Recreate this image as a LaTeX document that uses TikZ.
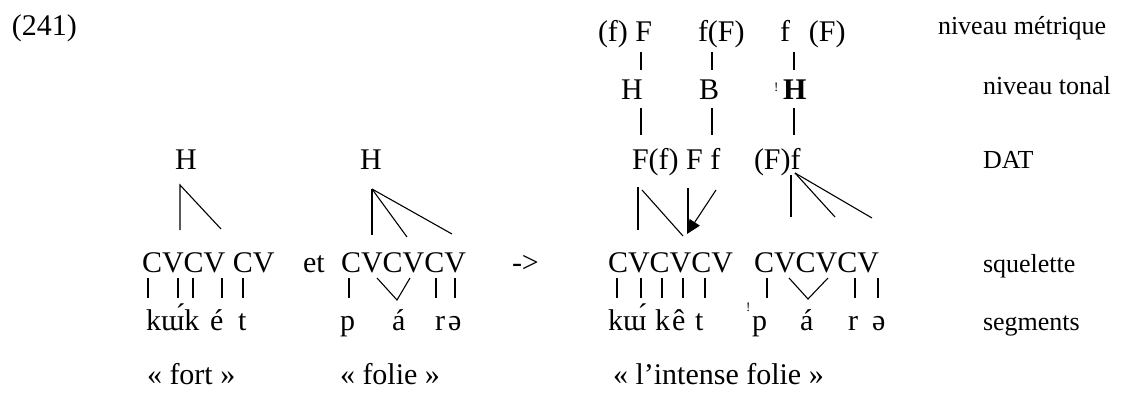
\documentclass[tikz,border=0pt]{standalone}
\usepackage{fontspec}
\setmainfont{Liberation Serif}
\usetikzlibrary{arrows.meta}
\begin{document}
\begin{tikzpicture}[x=1pt,y=-1pt,
 txt/.style={inner sep=0pt,outer sep=0pt,anchor=base west,font=\fontsize{30}{36}\selectfont},
 lab/.style={inner sep=0pt,outer sep=0pt,anchor=base west,font=\fontsize{26}{30}\selectfont},
 tinymark/.style={inner sep=0pt,outer sep=0pt,anchor=north west,font=\fontsize{13}{14}\selectfont},
 assoc/.style={line width=1.1pt,line cap=butt},
 ]
\useasboundingbox (0,0) rectangle (1127,393);
% number
\node[txt] (num) at (12,36) {(241)};
% metric level
\node[txt] (m1) at (598,42) {(f) F};
\node[txt] (m2) at (698,42) {f(F)};
\node[txt] (m3) at (780,42) {f\hspace{19pt}(F)};
% tonal level
\node[txt] (t1) at (621,100) {H};
\node[txt] (t2) at (699,100) {B};
\node[tinymark] (t3x) at (774,83) {!};
\node[txt] (t3) at (783,100) {\bfseries H};
% DAT
\node[txt] (d1) at (175,169) {H};
\node[txt] (d2) at (360,169) {H};
\node[txt] (d3) at (632,169) {F(f) F f};
\node[txt] (d4) at (754,169) {(F)f};
% skeleton
\node[txt] (s1) at (142,272) {CVCV CV};
\node[txt] (et) at (303,272) {et};
\node[txt] (s2) at (341,272) {CVCVCV};
\node[txt] (arr) at (512,272) {->};
\node[txt] (s3) at (608,272) {CVCVCV};
\node[txt] (s4) at (754,272) {CVCVCV};
% segments
\node[txt] (g1) at (146,330) {kɯ́k};
\node[txt] (g2) at (210,330) {é};
\node[txt] (g3) at (238,330) {t};
\node[txt] (g4) at (340,330) {p};
\node[txt] (g5) at (392,330) {á};
\node[txt] (g6) at (435,330) {r};
\node[txt] (g7) at (448,330) {ə};
\node[txt] (h1) at (608,330) {kɯ́};
\node[txt] (h2) at (655,330) {k};
\node[txt] (h3) at (672,330) {ê};
\node[txt] (h4) at (695,330) {t};
\node[tinymark] (h5x) at (746,303) {!};
\node[txt] (h5) at (752,330) {p};
\node[txt] (h6) at (800,330) {á};
\node[txt] (h7) at (848,330) {r};
\node[txt] (h8) at (872,330) {ə};
% glosses
\node[txt] (q1) at (147,384) {« fort »};
\node[txt] (q2) at (340,384) {« folie »};
\node[txt] (q3) at (613,384) {« l’intense folie »};
% labels
\node[lab] (l1) at (938,35) {niveau métrique};
\node[lab] (l2) at (983,95) {niveau tonal};
\node[lab] (l3) at (983,168) {DAT};
\node[lab] (l4) at (983,272) {squelette};
\node[lab] (l5) at (983,330) {segments};
% metric-tonal bars
\foreach \x/\n in {641/a,712/b,794/c}{
  \coordinate (mt\n1) at (\x,52); \coordinate (mt\n2) at (\x,70);
  \draw[assoc] (mt\n1) -- (mt\n2);
  \coordinate (td\n1) at (\x,108); \coordinate (td\n2) at (\x,135);
  \draw[assoc] (td\n1) -- (td\n2);
}
% left DAT associations
\coordinate (A0) at (180,185); \coordinate (A1) at (180,230); \coordinate (A2) at (221,229);
\draw[assoc] (A1) -- (A0) -- (A2);
\coordinate (B0) at (372,189); \coordinate (B1) at (372,235); \coordinate (B2) at (407,237); \coordinate (B3) at (452,234);
\draw[assoc] (B0) -- (B1); \draw[assoc] (B0) -- (B2); \draw[assoc] (B0) -- (B3);
% right DAT associations
\coordinate (C0) at (638,187); \coordinate (C1) at (638,230);
\draw[assoc] (C0) -- (C1);
\coordinate (C2) at (642,190); \coordinate (C3) at (683,236);
\draw[assoc] (C2) -- (C3);
\coordinate (C4) at (688,188); \coordinate (C5) at (688,233);
\draw[assoc] (C4) -- (C5);
\coordinate (C6) at (716,190); \coordinate (C7) at (687,234);
\draw[assoc,-{Triangle[length=14pt,width=12pt]}] (C6) -- (C7);
\coordinate (D0) at (791,175); \coordinate (D1) at (791,217);
\draw[assoc] (D0) -- (D1);
\coordinate (D2) at (795,173); \coordinate (D3) at (835,217); \coordinate (D4) at (872,218);
\draw[assoc] (D2) -- (D3); \draw[assoc] (D2) -- (D4);
% skeleton-segment bars
\foreach \x [count=\i] in {148,178,193,222,243,349,436,455,617,641,662,683,705,767,855,878}{
  \coordinate (sb\i a) at (\x,278); \coordinate (sb\i b) at (\x,298);
  \draw[assoc] (sb\i a) -- (sb\i b);
}
% V shapes
\coordinate (V1a) at (377,278); \coordinate (V1b) at (397,300); \coordinate (V1c) at (410,278);
\draw[assoc] (V1a) -- (V1b) -- (V1c);
\coordinate (V2a) at (789,278); \coordinate (V2b) at (808,299); \coordinate (V2c) at (828,278);
\draw[assoc] (V2a) -- (V2b) -- (V2c);
\end{tikzpicture}
\end{document}
